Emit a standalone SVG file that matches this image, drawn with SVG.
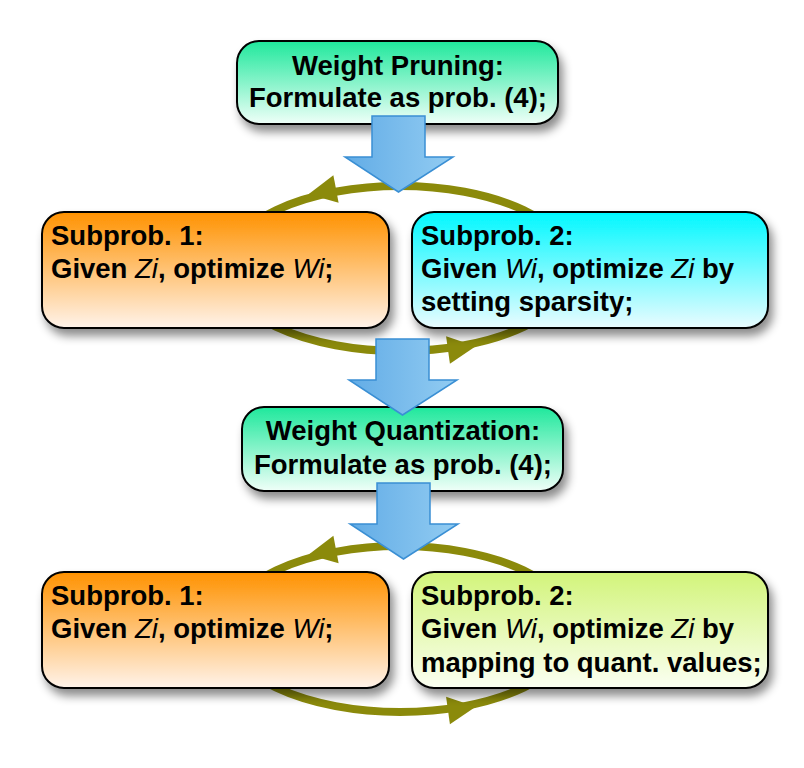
<svg xmlns="http://www.w3.org/2000/svg" width="804" height="768" viewBox="0 0 804 768">
<defs>
<linearGradient id="gGreen" x1="0" y1="0" x2="0" y2="1"><stop offset="0" stop-color="#1fe89c"/><stop offset="1" stop-color="#effff8"/></linearGradient>
<linearGradient id="gOrange" x1="0" y1="0" x2="0" y2="1"><stop offset="0" stop-color="#ff9200"/><stop offset="1" stop-color="#fff3ea"/></linearGradient>
<linearGradient id="gCyan" x1="0" y1="0" x2="0" y2="1"><stop offset="0" stop-color="#00f8ff"/><stop offset="1" stop-color="#eafcff"/></linearGradient>
<linearGradient id="gLime" x1="0" y1="0" x2="0" y2="1"><stop offset="0" stop-color="#d2f47a"/><stop offset="1" stop-color="#fbfff2"/></linearGradient>
<linearGradient id="gBlue" x1="0" y1="0" x2="1" y2="0"><stop offset="0" stop-color="#62ace6"/><stop offset="1" stop-color="#92ccf2"/></linearGradient>
<filter id="shadow" x="-10%" y="-20%" width="125%" height="150%"><feDropShadow dx="4" dy="7" stdDeviation="5" flood-color="#000" flood-opacity="0.45"/></filter>
<path id="arrow" d="M0,0 H53 V41 H81 L26.5,76 L-27,41 H0 Z"/>
<path id="headL" d="M-28,0 L0,-14 L0,14 Z"/>
</defs>
<style>
.box{stroke:#000;stroke-width:2;filter:url(#shadow)}
.t{font-family:"Liberation Sans",Arial,Helvetica,sans-serif;font-weight:bold;font-size:27.5px;fill:#000}
.i{font-style:italic;font-weight:normal}
.ring{fill:none;stroke:#8b8a0b;stroke-width:8}
.head{fill:#8b8a0b}
.arr{fill:url(#gBlue);stroke:#3a8fd4;stroke-width:1.5}
</style>
<rect width="804" height="768" fill="#fff"/>

<g id="connectors">
<ellipse class="ring" cx="400" cy="268.5" rx="175" ry="82.5"/>
<use href="#headL" class="head" transform="translate(336,189) rotate(-10.8)"/>
<use href="#headL" class="head" transform="translate(448,350) rotate(172.1)"/>
<ellipse class="ring" cx="400" cy="629" rx="175" ry="83"/>
<use href="#headL" class="head" transform="translate(336,549.5) rotate(-10.8)"/>
<use href="#headL" class="head" transform="translate(448,710.5) rotate(172.1)"/>
</g>

<g id="pruning">
<rect class="box" x="237" y="41" width="321" height="83" rx="22" fill="url(#gGreen)"/>
<text class="t" x="398" y="75" text-anchor="middle">Weight Pruning:</text>
<text class="t" x="398" y="107" text-anchor="middle">Formulate as prob. (4);</text>
</g>

<g id="p-sub1">
<rect class="box" x="42" y="212" width="347" height="116" rx="22" fill="url(#gOrange)"/>
<text class="t" x="51" y="245">Subprob. 1:</text>
<text class="t" x="51" y="278">Given <tspan class="i">Zi</tspan>, optimize <tspan class="i">Wi</tspan>;</text>
</g>

<g id="p-sub2">
<rect class="box" x="412" y="212" width="356" height="116" rx="22" fill="url(#gCyan)"/>
<text class="t" x="421" y="245">Subprob. 2:</text>
<text class="t" x="421" y="278">Given <tspan class="i">Wi</tspan>, optimize <tspan class="i">Zi</tspan> by</text>
<text class="t" x="421" y="311">setting sparsity;</text>
</g>

<g id="quantization">
<rect class="box" x="242" y="407" width="321" height="84" rx="22" fill="url(#gGreen)"/>
<text class="t" x="403" y="440" text-anchor="middle">Weight Quantization:</text>
<text class="t" x="403" y="474" text-anchor="middle">Formulate as prob. (4);</text>
</g>

<g id="q-sub1">
<rect class="box" x="42" y="572" width="347" height="116" rx="22" fill="url(#gOrange)"/>
<text class="t" x="51" y="605">Subprob. 1:</text>
<text class="t" x="51" y="638">Given <tspan class="i">Zi</tspan>, optimize <tspan class="i">Wi</tspan>;</text>
</g>

<g id="q-sub2">
<rect class="box" x="412" y="572" width="356" height="116" rx="22" fill="url(#gLime)"/>
<text class="t" x="421" y="605">Subprob. 2:</text>
<text class="t" x="421" y="638">Given <tspan class="i">Wi</tspan>, optimize <tspan class="i">Zi</tspan> by</text>
<text class="t" x="421" y="672">mapping to quant. values;</text>
</g>

<g id="flow-arrows">
<use href="#arrow" class="arr" transform="translate(372,116)"/>
<use href="#arrow" class="arr" transform="translate(376,339)"/>
<use href="#arrow" class="arr" transform="translate(377,483)"/>
</g>
</svg>
